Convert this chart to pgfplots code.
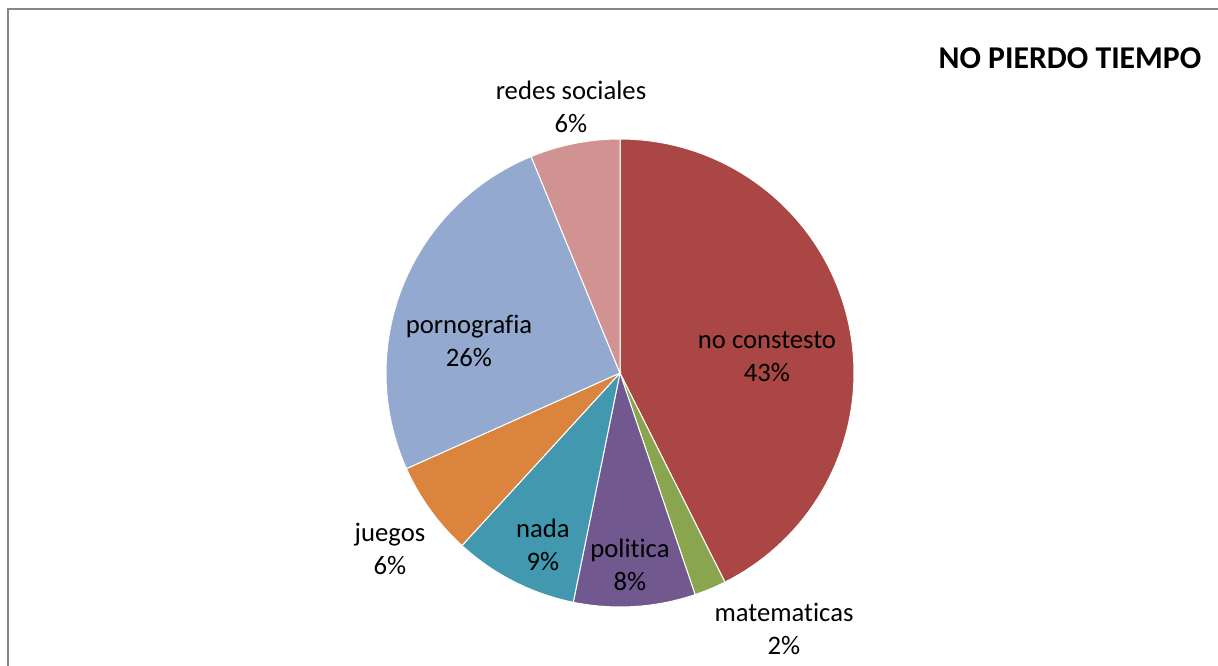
\documentclass[border=0pt]{standalone}
\usepackage{pgfplots}
\pgfplotsset{compat=1.18}
\usepackage{fontspec}
\setmainfont{Carlito}[Ligatures={NoCommon,NoRare}, Contextuals=NoAlternate]
\definecolor{cRed}{HTML}{AA4643}
\definecolor{cGreen}{HTML}{89A54E}
\definecolor{cPurple}{HTML}{71588F}
\definecolor{cTeal}{HTML}{4198AF}
\definecolor{cOrange}{HTML}{DB843D}
\definecolor{cLBlue}{HTML}{93A9CF}
\definecolor{cPink}{HTML}{D19392}
\definecolor{frameGray}{RGB}{134,134,134}
% pie centre (620,293) radius 234 in pixel units; slices clockwise from 12 o'clock
\newcommand\pieslice[3]{% #1 cumulative percent before, #2 percent, #3 colour
  \pgfmathsetmacro\sa{90-3.6*(#1+#2)}%
  \pgfmathsetmacro\sb{90-3.6*(#1)}%
  \addplot[fill=#3, draw=white, line width=0.75pt, domain=\sa:\sb, samples=80, variable=\t]
    ({620+234*cos(\t)},{293+234*sin(\t)}) -- (620,293) -- cycle;
}
\begin{document}
\begin{tikzpicture}
\begin{axis}[x=0.75pt, y=0.75pt, xmin=0, xmax=1218, ymin=0, ymax=666,
  hide axis, clip=false]
\path[use as bounding box] (0,0) rectangle (1218,666);
\pieslice{0}{42.6}{cRed}
\pieslice{42.6}{2.2}{cGreen}
\pieslice{44.8}{8.4}{cPurple}
\pieslice{53.2}{8.6}{cTeal}
\pieslice{61.8}{6.5}{cOrange}
\pieslice{68.3}{25.5}{cLBlue}
\pieslice{93.8}{6.2}{cPink}
\begin{scope}
\clip (0,0) rectangle (1218,666);
\draw[line width=1.5pt, frameGray] (8,-5) -- (8,656.5) -- (1225,656.5);
\end{scope}
\begin{scope}[every node/.style={align=center, font=\fontsize{20}{24.75}\selectfont, inner sep=0pt}]
\node at (571,559) {redes sociales\\6\%};
\node at (767,309) {no constesto\\43\%};
\node at (469,325) {pornografia\\26\%};
\node at (390,117) {juegos\\6\%};
\node at (543,121) {nada\\9\%};
\node at (630,101) {politica\\8\%};
\node at (784,37) {matematicas\\2\%};
\end{scope}
\node[font=\fontsize{23.8}{28}\selectfont\bfseries, inner sep=0pt] at (1070,608) {NO PIERDO TIEMPO};
\end{axis}
\end{tikzpicture}
\end{document}
